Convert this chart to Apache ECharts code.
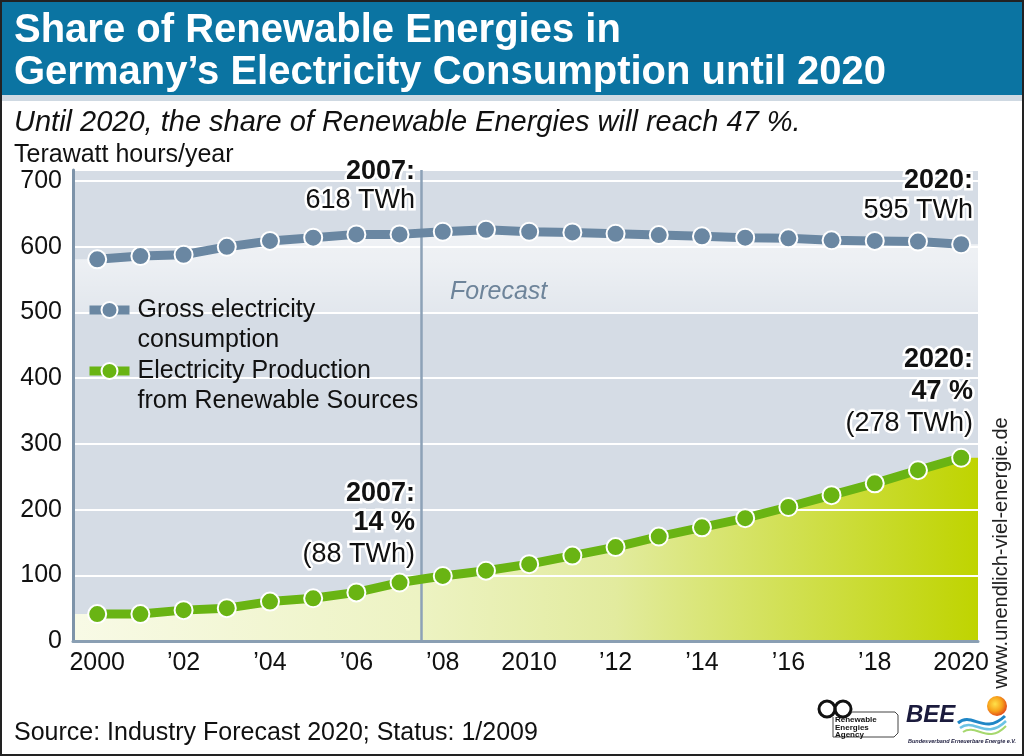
<!DOCTYPE html>
<html><head><meta charset="utf-8">
<script src="https://cdn.jsdelivr.net/npm/echarts@6/dist/echarts.min.js"></script>
<style>html,body{margin:0;padding:0;background:#fff}#c{width:1024px;height:756px}</style>
</head><body><div id="c"></div>
<script>
// ---- data ----
const years = [2000,2001,2002,2003,2004,2005,2006,2007,2008,2009,2010,2011,2012,2013,2014,2015,2016,2017,2018,2019,2020];
const grossConsumption = [581,586,588,600,609,614,619,619,623,626,623,622,620,618,616,614,613,610,609,608,604];
const renewableProduction = [41,41,47,50,60,65,74,89,99,107,117,130,143,159,173,187,204,222,240,260,279];
const xTickValues = [2000,2002,2004,2006,2008,2010,2012,2014,2016,2018,2020];
const xTickLabels = ['2000','\u201902','\u201904','\u201906','\u201908','2010','\u201912','\u201914','\u201916','\u201918','2020'];
const yTickValues = [0,100,200,300,400,500,600,700];
const forecastStart = 2007.5;
const seriesNames = ['Gross electricity consumption','Electricity Production from Renewable Sources'];
const legendLabels = ['Gross electricity\nconsumption','Electricity Production\nfrom Renewable Sources'];

// ---- layout / style ----
const X_MIN = 1999.44, X_MAX = 2020.39, Y_MAX = 717;
const FONT = '"Liberation Sans", Arial, Helvetica, sans-serif';
const GREY = '#6a87a2', GREEN = '#69b413';
const ANN = 27;
const pairs = v => years.map((y, i) => [y, v[i]]);
const extended = v => [[X_MIN, v[0]]].concat(pairs(v), [[X_MAX, v[v.length - 1]]]);

const chart = echarts.init(document.getElementById('c'));

function txt(text, x, y, size, opts) {
  opts = opts || {};
  return {
    type: 'text', z: 20, x: x, y: y, rotation: opts.rotation || 0, silent: true,
    style: {
      text: text, x: 0, y: 0,
      font: (opts.style || 'normal') + ' ' + (opts.weight || 'normal') + ' ' + size + 'px ' + FONT,
      fill: opts.color || '#111',
      align: opts.align || 'left', verticalAlign: 'middle',
      stroke: opts.halo ? '#fff' : null, lineWidth: opts.halo ? 5 : 0, strokeFirst: true
    }
  };
}

const graphics = [
  {type:'rect', z:1, silent:true, shape:{x:0,y:0,width:1024,height:95}, style:{fill:'#0b74a2'}},
  {type:'rect', z:1, silent:true, shape:{x:0,y:95,width:1024,height:6}, style:{fill:'#cfd9e2'}},
  txt('Share of Renewable Energies in', 14, 31, 40, {weight:'bold', color:'#fff'}),
  txt('Germany\u2019s Electricity Consumption until 2020', 14, 73, 40, {weight:'bold', color:'#fff'}),
  txt('Until 2020, the share of Renewable Energies will reach 47 %.', 14, 123, 29, {style:'italic'}),
  txt('Terawatt hours/year', 14, 155, 25),
  // annotations
  txt('2007:', 415, 172, ANN, {weight:'bold', align:'right', halo:true}),
  txt('618 TWh', 415, 201, ANN, {align:'right', halo:true}),
  txt('2020:', 973, 181, ANN, {weight:'bold', align:'right', halo:true}),
  txt('595 TWh', 973, 211, ANN, {align:'right', halo:true}),
  txt('Forecast', 450, 292, 25, {style:'italic', color:'#6e849a'}),
  txt('2020:', 973, 360, ANN, {weight:'bold', align:'right', halo:true}),
  txt('47 %', 973, 392, ANN, {weight:'bold', align:'right', halo:true}),
  txt('(278 TWh)', 973, 424, ANN, {align:'right', halo:true}),
  txt('2007:', 415, 494, ANN, {weight:'bold', align:'right', halo:true}),
  txt('14 %', 415, 523, ANN, {weight:'bold', align:'right', halo:true}),
  txt('(88 TWh)', 415, 555, ANN, {align:'right', halo:true}),
  txt('www.unendlich-viel-energie.de', 1001, 553, 20, {rotation: Math.PI / 2, align:'center', color:'#222'}),
  txt('Source: Industry Forecast 2020; Status: 1/2009', 14, 733, 25),
  // Renewable Energies Agency logo
  {type:'circle', z:20, silent:true, shape:{cx:827, cy:709, r:8}, style:{fill:'none', stroke:'#111', lineWidth:3}},
  {type:'circle', z:20, silent:true, shape:{cx:843, cy:709, r:8}, style:{fill:'none', stroke:'#111', lineWidth:3}},
  {type:'polyline', z:20, silent:true, shape:{points:[[851,712],[895,712],[898,715],[898,733],[894,737],[833,737],[833,717]]}, style:{fill:'none', stroke:'#444', lineWidth:1}},
  txt('Renewable', 835, 720, 8, {weight:'bold'}),
  txt('Energies', 835, 728, 8, {weight:'bold'}),
  txt('Agency', 835, 735, 8, {weight:'bold'}),
  // BEE logo
  txt('BEE', 906, 715, 24, {weight:'bold', style:'italic', color:'#1b1b3d'}),
  {type:'circle', z:20, silent:true, shape:{cx:997, cy:706, r:10},
    style:{fill: new echarts.graphic.RadialGradient(0.4, 0.4, 0.6, [{offset:0,color:'#ffe14a'},{offset:0.6,color:'#f7a21b'},{offset:1,color:'#e4521b'}])}},
  {type:'bezierCurve', z:21, silent:true, shape:{x1:958,y1:723,cpx1:972,cpy1:711,cpx2:984,cpy2:736,x2:1005,y2:716}, style:{fill:'none', stroke:'#1f86c6', lineWidth:3}},
  {type:'bezierCurve', z:21, silent:true, shape:{x1:960,y1:728,cpx1:974,cpy1:717,cpx2:986,cpy2:741,x2:1006,y2:721}, style:{fill:'none', stroke:'#6cc3e4', lineWidth:2.5}},
  {type:'bezierCurve', z:21, silent:true, shape:{x1:963,y1:732,cpx1:976,cpy1:723,cpx2:988,cpy2:745,x2:1006,y2:726}, style:{fill:'none', stroke:'#a6d86e', lineWidth:2}},
  txt('Bundesverband Erneuerbare Energie e.V.', 908, 741, 5.5, {weight:'bold', style:'italic', color:'#1b1b3d'}),
  // outer frame
  {type:'rect', z:30, silent:true, shape:{x:1,y:1,width:1022,height:754}, style:{fill:'none', stroke:'#222', lineWidth:2}}
];

function legendFor(i, top) {
  return {
    orient: 'vertical', left: 85, top: top, padding: 0,
    itemWidth: 40, itemHeight: 20, selectedMode: false,
    data: [seriesNames[i]],
    // leading blank line puts the first text line level with the icon
    formatter: n => '\n' + legendLabels[seriesNames.indexOf(n)],
    lineStyle: {width: 9},
    textStyle: {fontSize: 25, fontFamily: FONT, color: '#111', lineHeight: 30, padding: [0, 0, 0, 3]}
  };
}

const option = {
  animation: false,
  backgroundColor: '#fff',
  grid: {left: 73, right: 46, top: 170, bottom: 115, show: true, backgroundColor: '#d5dce5', borderWidth: 0, z: 0},
  xAxis: {
    type: 'value', min: X_MIN, max: X_MAX, z: 2,
    axisLine: {show: true, onZero: false, lineStyle: {color: '#8a9fb3', width: 3}},
    axisTick: {show: false}, splitLine: {show: false},
    axisLabel: {
      customValues: xTickValues, margin: 10, fontSize: 25, color: '#111', fontFamily: FONT,
      formatter: v => { const i = xTickValues.indexOf(Math.round(v)); return i >= 0 ? xTickLabels[i] : ''; }
    }
  },
  yAxis: {
    type: 'value', min: 0, max: Y_MAX, interval: 100, z: 2,
    axisLine: {show: true, lineStyle: {color: '#7d93a9', width: 3}},
    axisTick: {show: false},
    splitLine: {show: true, lineStyle: {color: '#ffffff', width: 2}},
    axisLabel: {
      margin: 11, fontSize: 25, color: '#111', fontFamily: FONT,
      formatter: v => yTickValues.indexOf(v) >= 0 ? String(v) : ''
    }
  },
  legend: [legendFor(0, 265), legendFor(1, 326)],
  series: [
    {
      name: 'grossGlow', type: 'line', z: 1, silent: true, showSymbol: false, symbol: 'none',
      data: extended(grossConsumption), lineStyle: {width: 0},
      areaStyle: {color: new echarts.graphic.LinearGradient(0, 0, 0, 1, [
        {offset: 0, color: 'rgba(255,255,255,0.92)'},
        {offset: 0.08, color: 'rgba(255,255,255,0.8)'},
        {offset: 0.2, color: 'rgba(255,255,255,0.45)'},
        {offset: 0.201, color: 'rgba(255,255,255,0)'},
        {offset: 1, color: 'rgba(255,255,255,0)'}
      ])}
    },
    {
      name: 'renewArea', type: 'line', z: 1, silent: true, showSymbol: false, symbol: 'none',
      data: extended(renewableProduction), lineStyle: {width: 0},
      areaStyle: {opacity: 1, color: new echarts.graphic.LinearGradient(0, 0, 1, 0, [
        {offset: 0, color: '#f8fae6'},
        {offset: 0.38, color: '#edf3c3'},
        {offset: 0.6, color: '#e2eb9e'},
        {offset: 1, color: '#bfd400'}
      ])},
      markLine: {
        silent: true, symbol: 'none', z: 2, label: {show: false},
        lineStyle: {color: '#8da2b7', width: 2.5, type: 'solid'},
        data: [{xAxis: forecastStart}]
      }
    },
    {
      name: seriesNames[0], type: 'line', z: 3, data: pairs(grossConsumption),
      symbol: 'circle', symbolSize: 18, showSymbol: true,
      lineStyle: {color: GREY, width: 9},
      itemStyle: {color: GREY, borderColor: '#fff', borderWidth: 2}
    },
    {
      name: seriesNames[1], type: 'line', z: 4, data: pairs(renewableProduction),
      symbol: 'circle', symbolSize: 18, showSymbol: true,
      lineStyle: {color: GREEN, width: 9},
      itemStyle: {color: GREEN, borderColor: '#fff', borderWidth: 2}
    }
  ],
  graphic: {elements: graphics}
};
chart.setOption(option);
</script></body></html>
